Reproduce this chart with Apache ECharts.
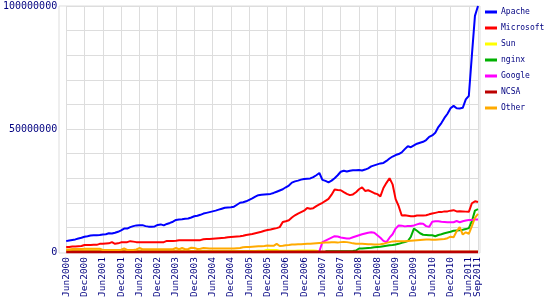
<!DOCTYPE html>
<html><head><meta charset="utf-8">
<script src="https://cdn.jsdelivr.net/npm/echarts@6/dist/echarts.min.js"></script>
<style>html,body{margin:0;padding:0;background:#fff}#c{width:550px;height:300px}</style>
</head><body><div id="c"></div>
<script>
// Months Jun2000 .. Sep2011 (136 months)
const monthNames = ['Jan','Feb','Mar','Apr','May','Jun','Jul','Aug','Sep','Oct','Nov','Dec'];
const categories = [];
for (let y = 2000, m = 5; y < 2011 || (y === 2011 && m <= 8); ) {
  categories.push(monthNames[m] + y);
  m++; if (m > 11) { m = 0; y++; }
}
const tickLabels = ['Jun2000','Dec2000','Jun2001','Dec2001','Jun2002','Dec2002','Jun2003','Dec2003',
  'Jun2004','Dec2004','Jun2005','Dec2005','Jun2006','Dec2006','Jun2007','Dec2007','Jun2008','Dec2008',
  'Jun2009','Dec2009','Jun2010','Dec2010','Jun2011','Sep2011'];
const yLabels = [0, 50000000, 100000000];

// values in millions of sites
const apache = [4.4,4.7,4.9,5.1,5.5,5.8,6.2,6.4,6.7,6.8,
6.8,6.9,7.1,7.2,7.6,7.5,7.8,8.2,8.8,9.5,
9.5,10.1,10.5,10.8,10.9,10.9,10.5,10.3,10.3,10.4,
11.0,11.2,10.8,11.4,11.8,12.3,13.0,13.2,13.3,13.5,
13.6,14.0,14.5,14.7,15.1,15.6,15.9,16.2,16.5,16.8,
17.2,17.6,18.0,18.1,18.2,18.4,19.2,20.0,20.2,20.6,
21.2,21.8,22.5,23.1,23.3,23.4,23.5,23.6,24.0,24.5,
25.0,25.5,26.3,27.0,28.2,28.7,29.0,29.4,29.7,29.8,
29.9,30.4,31.2,32.1,29.3,28.9,28.3,29.0,30.0,31.2,
32.6,33.0,32.7,33.0,33.2,33.2,33.3,33.1,33.5,34.0,
34.8,35.2,35.6,36.0,36.2,37.0,38.0,38.8,39.4,39.8,
40.5,41.8,43.0,42.6,43.3,44.0,44.4,44.8,45.5,46.8,
47.4,48.5,50.8,52.4,54.5,56.2,58.4,59.4,58.4,58.3,
58.6,62.0,63.5,80.0,96.0,100.0];

const microsoft = [2.0,2.0,2.2,2.2,2.3,2.4,2.8,2.8,2.8,2.9,
2.9,3.3,3.3,3.4,3.5,4.0,3.3,3.5,3.9,4.0,
4.0,4.4,4.2,4.0,4.0,4.0,4.0,4.0,4.0,4.0,
4.0,4.0,4.0,4.5,4.5,4.5,4.6,4.8,4.8,4.8,
4.8,4.8,4.8,4.8,4.8,5.2,5.3,5.3,5.4,5.5,
5.6,5.7,5.8,6.0,6.1,6.2,6.3,6.4,6.6,6.9,
7.1,7.3,7.6,7.9,8.2,8.6,8.9,9.1,9.4,9.7,
10.1,12.2,12.5,12.9,14.0,14.9,15.6,16.2,16.8,17.9,
17.6,17.8,18.6,19.3,20.0,20.8,21.6,23.3,25.4,25.2,
25.1,24.3,23.6,23.1,23.4,24.3,25.5,26.3,24.8,25.1,
24.5,23.9,23.5,22.6,26.0,28.1,30.0,27.5,21.5,18.6,
14.8,14.9,14.7,14.5,14.5,14.8,14.8,14.8,14.9,15.3,
15.6,15.9,16.2,16.2,16.5,16.5,16.8,17.0,16.5,16.6,
16.5,16.4,16.3,19.8,20.6,20.3];

const sun = [0.7,0.7,0.7,0.7,0.7,0.7,0.7,0.7,0.7,0.7,
0.7,0.7,0.6,0.6,0.6,0.6,0.6,0.6,0.5,0.5,
0.5,0.5,0.5,0.5,0.5,0.5,0.5,0.5,0.5,0.5,
0.5,0.5,0.5,0.5,0.5,0.5,0.5,0.5,0.5,0.5,
0.5,0.4,0.4,0.4,0.4,0.4,0.4,0.4,0.4,0.4,
0.4,0.4,0.4,0.4,0.4,0.4,0.4,0.4,0.4,0.4,
0.4,0.4,0.4,0.5,0.5,0.6,0.9,0.8,0.8,0.8,
0.5,0.5,0.5,0.5,0.5,0.5,0.6,0.6,0.6,0.6,
0.6,0.6,0.5,0.1,0.1,0.1,0.1,0.1,0.1,0.1,
0.1,0.1,0.1,0.1,0.1,0.1,0.1,0.1,0.1,0.1,
0.1,0.1,0.1,0.1,0.1,0.1,0.1,0.1,0.1,0.1,
0.1,0.1,0.1,0.1,0.1,0.1,0.1,0.1,0.1,0.1,
0.1,0.1,0.1,0.1,0.1,0.1,0.1,0.1,0.1,0.1,
0.1,0.1,0.1,0.1,0.1,0.1];

const nginxStart = 85;
const nginxVals = [0.3,0.3,0.3,0.3,0.3,0.3,0.3,0.3,0.3,0.4,
0.6,1.4,1.4,1.5,1.6,1.7,1.9,2.0,2.1,2.3,
2.5,2.7,2.8,3.0,3.3,3.7,4.0,4.4,6.2,9.5,
8.6,7.6,7.0,6.9,6.8,6.8,6.4,6.9,7.2,7.6,
7.9,8.2,8.6,8.7,8.8,9.0,9.3,9.7,12.5,16.8,
17.4];

const googleStart = 83;
const googleVals = [0.3,4.0,4.6,5.2,5.8,6.4,6.3,5.9,5.7,5.5,
5.5,6.0,6.4,6.8,7.2,7.5,7.8,8.0,7.8,6.8,
5.8,4.5,4.0,5.8,7.2,9.5,10.8,10.7,10.4,10.6,
10.6,10.8,11.2,11.6,11.5,10.5,10.2,12.3,12.5,12.5,
12.3,12.2,12.1,12.1,12.1,12.6,12.1,12.5,12.8,13.0,
13.0,13.2,13.2];

const ncsa = categories.map(() => 0);

const other = [1.0,1.0,1.2,1.2,1.2,1.2,1.3,1.3,1.3,1.3,
1.3,1.3,0.8,0.8,0.8,0.8,0.8,0.8,0.9,1.4,
0.8,0.8,0.8,1.0,1.6,1.1,1.1,1.1,1.1,1.1,
1.1,1.1,1.1,1.1,1.1,1.1,1.6,1.1,1.6,1.1,
1.2,1.7,1.6,1.2,1.3,1.6,1.5,1.4,1.4,1.4,
1.4,1.4,1.4,1.4,1.4,1.4,1.5,1.6,1.9,2.0,
2.0,2.1,2.2,2.3,2.3,2.4,2.6,2.5,2.5,3.3,
2.4,2.5,2.7,2.8,3.0,3.0,3.1,3.1,3.2,3.3,
3.3,3.4,3.5,3.6,3.7,3.8,3.8,3.9,3.9,3.8,
4.0,4.1,4.0,3.8,3.5,3.3,3.3,3.3,3.2,3.1,
3.1,3.0,3.0,3.1,3.3,3.7,4.0,4.3,4.4,4.4,
4.4,4.4,4.5,4.6,4.7,4.8,4.9,5.0,5.1,5.1,
5.0,5.0,5.1,5.2,5.3,5.6,6.2,6.0,8.4,10.1,
7.1,8.0,7.4,10.5,13.9,15.5];

const M = 1000000;
function full(vals, start) {
  return categories.map((c, i) => (i < start ? null : vals[i - start] * M));
}
function scaled(arr) { return arr.map(v => v * M); }

const font = 'DejaVu Sans Mono';
const navy = '#000080';
const lastLabel = tickLabels[tickLabels.length - 1];
const isTick = (idx) => tickLabels.indexOf(categories[idx]) >= 0;
const isMainLabel = (idx) => isTick(idx) && categories[idx] !== lastLabel;
const isLastLabel = (idx) => categories[idx] === lastLabel;

function line(name, data, color, width) {
  return { name, type: 'line', data, symbol: 'none', xAxisIndex: 0, yAxisIndex: 0,
    lineStyle: { color, width: width || 2 }, itemStyle: { color }, animation: false };
}

const labelBase = { rotate: 90, margin: 5, color: navy, fontFamily: font, fontSize: 9.5,
  hideOverlap: false };

const chart = echarts.init(document.getElementById('c'), null, { renderer: 'canvas' });
chart.setOption({
  animation: false,
  backgroundColor: '#fff',
  grid: [
    { left: 62, right: 72, top: 6, bottom: 47, containLabel: false },
    { left: 59, right: 70, top: 6, bottom: 47, show: true, borderColor: '#dddddd', borderWidth: 1, backgroundColor: 'transparent' }
  ],
  xAxis: [
    { type: 'category', gridIndex: 0, data: categories, boundaryGap: false,
      axisLine: { show: true, lineStyle: { color: '#dddddd' } },
      axisTick: { show: false },
      axisLabel: Object.assign({ interval: isMainLabel }, labelBase),
      splitLine: { show: true, interval: isTick, lineStyle: { color: '#dddddd', width: 1 } } },
    { type: 'value', gridIndex: 1, show: false },
    { type: 'category', gridIndex: 0, data: categories, boundaryGap: false, position: 'bottom',
      axisLine: { show: false }, axisTick: { show: false }, splitLine: { show: false },
      axisLabel: Object.assign({ interval: isLastLabel, showMinLabel: false, showMaxLabel: true }, labelBase) }
  ],
  yAxis: [
    { type: 'value', gridIndex: 0, min: 0, max: 100000000, interval: 10000000,
      axisLine: { show: false }, axisTick: { show: false },
      axisLabel: { margin: 9, color: navy, fontFamily: font, fontSize: 10,
        formatter: v => (yLabels.indexOf(v) >= 0 ? String(v) : '') },
      splitLine: { show: true, lineStyle: { color: '#dddddd', width: 1 } } },
    { type: 'value', gridIndex: 1, show: false }
  ],
  legend: {
    orient: 'vertical', left: 485, top: 7, padding: 0, icon: 'rect', itemWidth: 12, itemHeight: 3, itemGap: 6,
    textStyle: { color: navy, fontFamily: font, fontSize: 8, lineHeight: 10, padding: [0, 0, 0, -1] },
    data: ['Apache','Microsoft','Sun','nginx','Google','NCSA','Other']
  },
  series: [
    line('Apache', scaled(apache), '#0000ff'),
    line('Microsoft', scaled(microsoft), '#ff0000'),
    line('Sun', scaled(sun), '#ffff00'),
    line('nginx', full(nginxVals, nginxStart), '#00b000'),
    line('Google', full(googleVals, googleStart), '#ff00ff'),
    line('NCSA', scaled(ncsa), '#bb0000', 3),
    line('Other', scaled(other), '#ffaa00')
  ]
});
</script></body></html>
